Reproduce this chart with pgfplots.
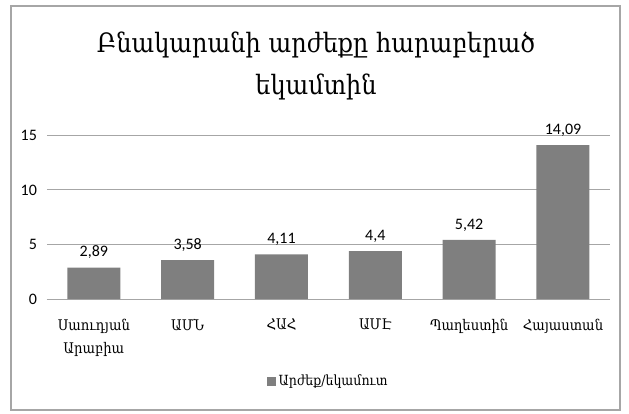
\documentclass[border=0pt]{standalone}
\usepackage{fontspec}
\usepackage{pgfplots}
\pgfplotsset{compat=1.18}
\setmainfont{Carlito}
\newfontfamily\arm{DejaVu Serif Condensed}
\definecolor{barg}{HTML}{7F7F7F}
\definecolor{gridg}{HTML}{A6A6A6}
\begin{document}
\begin{tikzpicture}[x=0.75pt,y=0.75pt]
\path[use as bounding box] (0,0) rectangle (629,414);
\draw[gridg,line width=0.8pt] (11,4) rectangle (620,408);
\node[align=center,font=\arm\fontsize{20}{31}\selectfont] at (316,348) {Բնակարանի արժեքը հարաբերած\\եկամտին};
\begin{axis}[
  at={(100,105)}, anchor=origin,
  scale only axis, width=422.25pt, height=123pt,
  xmin=-0.5, xmax=5.5, ymin=0, ymax=15,
  ytick={0,5,10,15},
  xtick={0,1,2,3,4,5},
  xticklabels={{Սաուդյան\\Արաբիա},ԱՄՆ,ՀԱՀ,ԱՄԷ,Պաղեստին,Հայաստան},
  xticklabel style={font=\arm\fontsize{11}{17}\selectfont, align=center, text depth=0pt, anchor=north, yshift=-11.5pt},
  yticklabel style={font=\fontsize{12}{14}\selectfont, xshift=-4pt},
  /pgf/number format/assume math mode=true,
  major tick length=0pt,
  axis x line*=bottom, axis y line*=left,
  x axis line style={gridg,line width=0.8pt, -},
  y axis line style={draw=none},
  ymajorgrids, grid style={gridg,line width=0.8pt},
  ybar, bar width=39.75pt,
  nodes near coords,
  every node near coord/.append style={font=\fontsize{12}{14}\selectfont, /pgf/number format/use comma, yshift=3pt},
  legend style={at={(0.5,-0.5)}, anchor=center, draw=none, font=\arm\fontsize{10.5}{12}\selectfont, legend columns=1},
  legend image code/.code={\fill[barg] (0pt,-3.5pt) rectangle (7pt,3.5pt);},
  clip=false,
]
\addplot[fill=barg, draw=none] coordinates {(0,2.89) (1,3.58) (2,4.11) (3,4.4) (4,5.42) (5,14.09)};
\addlegendentry{Արժեք/եկամուտ}
\end{axis}
\end{tikzpicture}
\end{document}
